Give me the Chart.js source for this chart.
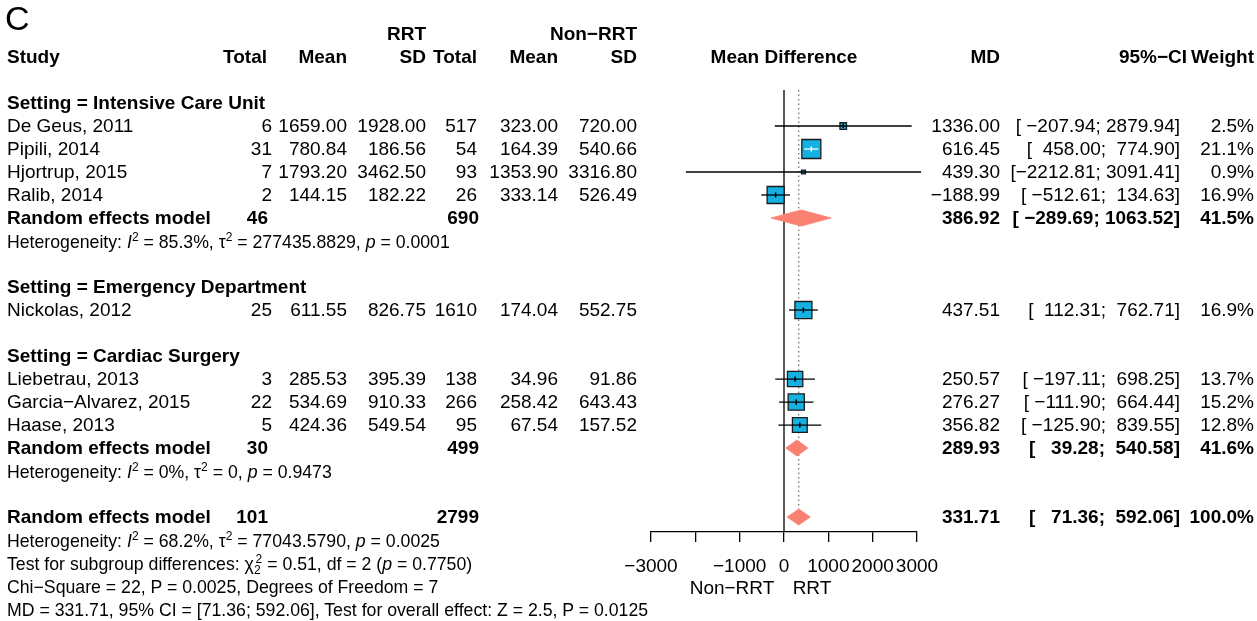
<!DOCTYPE html>
<html>
<head>
<meta charset="utf-8">
<script src="https://cdn.jsdelivr.net/npm/chart.js@4.4.1/dist/chart.umd.min.js"></script>
<style>
body { margin: 0; background: #fff; }
#wrap { position: relative; width: 1257px; height: 621px; font-family: "Liberation Sans", Arial, Helvetica, sans-serif; color: #000; }
#forest { position: absolute; left: 0; top: 0; }
.t { position: absolute; white-space: pre; line-height: 22px; font-size: 19px; }
.b { font-weight: bold; }
.s { font-size: 17.7px; }
sup, sub { font-size: 0.68em; position: relative; vertical-align: baseline; line-height: 0; }
sup { top: -0.6em; }
sub { top: 0.35em; }
</style>
</head>
<body>
<div id="wrap"><canvas id="forest" width="1257" height="621"></canvas></div>
<script>
// study rows
const studies = ['De Geus, 2011', 'Pipili, 2014', 'Hjortrup, 2015', 'Ralib, 2014', 'Nickolas, 2012',
                 'Liebetrau, 2013', 'Garcia−Alvarez, 2015', 'Haase, 2013'];
const studyRows = [1, 2, 3, 4, 9, 12, 13, 14];
const rrtTotal = [6, 31, 7, 2, 25, 3, 22, 5];
const rrtMean = [1659.00, 780.84, 1793.20, 144.15, 611.55, 285.53, 534.69, 424.36];
const rrtSD = [1928.00, 186.56, 3462.50, 182.22, 826.75, 395.39, 910.33, 549.54];
const nonTotal = [517, 54, 93, 26, 1610, 138, 266, 95];
const nonMean = [323.00, 164.39, 1353.90, 333.14, 174.04, 34.96, 258.42, 67.54];
const nonSD = [720.00, 540.66, 3316.80, 526.49, 552.75, 91.86, 643.43, 157.52];
const md = [1336.00, 616.45, 439.30, -188.99, 437.51, 250.57, 276.27, 356.82];
const ciLow = [-207.94, 458.00, -2212.81, -512.61, 112.31, -197.11, -111.90, -125.90];
const ciHigh = [2879.94, 774.90, 3091.41, 134.63, 762.71, 698.25, 664.44, 839.55];
const weight = [2.5, 21.1, 0.9, 16.9, 16.9, 13.7, 15.2, 12.8];

// subgroups
const groupLabels = ['Setting = Intensive Care Unit', 'Setting = Emergency Department', 'Setting = Cardiac Surgery'];
const groupRows = [0, 8, 11];

// pooled estimates (two subgroups + overall)
const pooledRows = [5, 15, 18];
const pooledRrtTotal = [46, 30, 101];
const pooledNonTotal = [690, 499, 2799];
const pooledMD = [386.92, 289.93, 331.71];
const pooledLow = [-289.69, 39.28, 71.36];
const pooledHigh = [1063.52, 540.58, 592.06];
const pooledWeight = [41.5, 41.6, 100.0];

const hetRows = [6, 16, 19];
const hetTexts = [
  'Heterogeneity: <i>I</i><sup>2</sup> = 85.3%, τ<sup>2</sup> = 277435.8829, <i>p</i> = 0.0001',
  'Heterogeneity: <i>I</i><sup>2</sup> = 0%, τ<sup>2</sup> = 0, <i>p</i> = 0.9473',
  'Heterogeneity: <i>I</i><sup>2</sup> = 68.2%, τ<sup>2</sup> = 77043.5790, <i>p</i> = 0.0025'
];
const noteRows = [20, 21, 22];
const noteTexts = [
  'Test for subgroup differences: χ<sub>2</sub><sup style="margin-left:-0.42em">2</sup> = 0.51, df = 2 (<i>p</i> = 0.7750)',
  'Chi−Square = 22, P = 0.0025, Degrees of Freedom = 7',
  'MD = 331.71, 95% CI = [71.36; 592.06], Test for overall effect: Z = 2.5, P = 0.0125'
];

const tickValues = [-3000, -2000, -1000, 0, 1000, 2000, 3000];
const tickLabels = ['−3000', '', '−1000', '0', '1000', '2000', '3000'];

const CYAN = '#14b1e2';
const SALMON = '#fa8072';
const DIAMOND_H = 0.35;
const Y_MIN = -1, Y_MAX = 18.65;

const fmt2 = v => (v < 0 ? '−' : '') + Math.abs(v).toFixed(2);
const fmtCI = (lo, hi) => '[' + fmt2(lo).padStart(8) + '; ' + fmt2(hi).padStart(7) + ']';
const sqSide = w => 4.14 * Math.sqrt(w);

function ciInsideBox(chart, i) {
  const xs = chart.scales.x;
  return Math.abs(xs.getPixelForValue(ciHigh[i]) - xs.getPixelForValue(ciLow[i])) < sqSide(weight[i]);
}

const datasets = [];

// no-effect line and overall-effect dotted line
datasets.push({
  type: 'line', data: [{x: 0, y: -0.57}, {x: 0, y: Y_MAX}],
  borderColor: '#000', borderWidth: 1.3, pointRadius: 0, order: 9, clip: false
});
datasets.push({
  type: 'line', data: [{x: pooledMD[2], y: -0.57}, {x: pooledMD[2], y: pooledRows[2] - DIAMOND_H}],
  borderColor: '#777', borderWidth: 1.3, borderDash: [1.5, 3], pointRadius: 0, order: 8, clip: false
});

// diamonds: upper and lower halves filled to the row line
pooledRows.forEach((r, k) => {
  [-DIAMOND_H, DIAMOND_H].forEach(h => {
    datasets.push({
      type: 'line',
      data: [{x: pooledLow[k], y: r}, {x: pooledMD[k], y: r + h}, {x: pooledHigh[k], y: r}],
      fill: {value: r}, backgroundColor: SALMON, borderColor: SALMON, borderWidth: 0.8,
      pointRadius: 0, order: 6, clip: false
    });
  });
});

// study squares
datasets.push({
  type: 'scatter',
  data: studyRows.map((r, i) => ({x: md[i], y: r})),
  pointStyle: 'rect',
  pointRadius: ctx => sqSide(weight[ctx.dataIndex]) / Math.SQRT2,
  pointBackgroundColor: CYAN, pointBorderColor: '#1b1b1b', pointBorderWidth: 1.3,
  order: 5, clip: false
});

// confidence intervals, drawn over the squares (white when inside the square)
studyRows.forEach((r, i) => {
  datasets.push({
    type: 'line',
    data: [{x: ciLow[i], y: r}, {x: ciHigh[i], y: r}],
    borderColor: ctx => ciInsideBox(ctx.chart, i) ? '#fff' : '#000',
    borderWidth: 1.3, pointRadius: 0, order: 3, clip: false
  });
});

// small tick at each point estimate
datasets.push({
  type: 'scatter',
  data: studyRows.map((r, i) => ({x: md[i], y: r})),
  pointStyle: 'line', pointRotation: 90,
  pointRadius: ctx => sqSide(weight[ctx.dataIndex]) < 5 ? 0 : Math.min(2.6, sqSide(weight[ctx.dataIndex]) / 3),
  pointBorderColor: ctx => ciInsideBox(ctx.chart, ctx.dataIndex) ? '#fff' : '#000',
  pointBorderWidth: 1.5, order: 2, clip: false
});

Chart.defaults.font.family = '"Liberation Sans", Arial, Helvetica, sans-serif';
Chart.defaults.color = '#000';

const chart = new Chart(document.getElementById('forest'), {
  type: 'scatter',
  data: { datasets: datasets },
  options: {
    responsive: false,
    animation: false,
    events: [],
    devicePixelRatio: 1,
    layout: { padding: { left: 651, right: 340, top: 80, bottom: 29 } },
    plugins: { legend: { display: false }, tooltip: { enabled: false } },
    scales: {
      x: {
        type: 'linear', min: -3000, max: 3000, position: 'bottom',
        afterFit: scale => { scale.height = 60; },
        afterBuildTicks: scale => { scale.ticks = tickValues.map(v => ({value: v})); },
        border: { display: true, color: '#000', width: 1.3 },
        grid: { drawOnChartArea: false, drawTicks: true, tickLength: 10, color: '#000', lineWidth: 1.3 },
        ticks: {
          autoSkip: false, maxRotation: 0, padding: 13, color: '#000', font: { size: 19 },
          callback: (v, i) => tickLabels[i]
        }
      },
      y: { type: 'linear', display: false, reverse: true, min: Y_MIN, max: Y_MAX }
    }
  }
});

// table text, placed on the same rows as the plot
const wrap = document.getElementById('wrap');
const W = 1257;
const rowY = r => chart.scales.y.getPixelForValue(r);

function put(x, r, html, align, cls, dy) {
  const d = document.createElement('div');
  d.className = 't ' + (cls || '');
  d.innerHTML = html;
  d.style.top = (rowY(r) - 11 + (dy || 0)) + 'px';
  if (align === 'right') d.style.right = (W - x) + 'px';
  else if (align === 'center') { d.style.left = x + 'px'; d.style.transform = 'translateX(-50%)'; }
  else d.style.left = x + 'px';
  wrap.appendChild(d);
}

const big = document.createElement('div');
big.className = 't';
big.style.cssText = 'left:5px;top:' + (rowY(-3.7) - 20) + 'px;font-size:34px;line-height:40px;';
big.textContent = 'C';
wrap.appendChild(big);

const COL = { study: 7, rTot: 272, rMean: 347, rSD: 426, nTot: 477, nMean: 558, nSD: 637, md: 1000, ci: 1180, w: 1254 };

put(COL.rSD, -3, 'RRT', 'right', 'b');
put(COL.nSD, -3, 'Non−RRT', 'right', 'b');
put(COL.study, -2, 'Study', 'left', 'b');
put(267, -2, 'Total', 'right', 'b');
put(COL.rMean, -2, 'Mean', 'right', 'b');
put(COL.rSD, -2, 'SD', 'right', 'b');
put(COL.nTot, -2, 'Total', 'right', 'b');
put(COL.nMean, -2, 'Mean', 'right', 'b');
put(COL.nSD, -2, 'SD', 'right', 'b');
put((chart.chartArea.left + chart.chartArea.right) / 2, -2, 'Mean Difference', 'center', 'b');
put(COL.md, -2, 'MD', 'right', 'b');
put(1187, -2, '95%−CI', 'right', 'b');
put(COL.w, -2, 'Weight', 'right', 'b');

groupLabels.forEach((g, k) => put(COL.study, groupRows[k], g, 'left', 'b'));

studies.forEach((s, i) => {
  const r = studyRows[i];
  put(COL.study, r, s, 'left');
  put(COL.rTot, r, String(rrtTotal[i]), 'right');
  put(COL.rMean, r, rrtMean[i].toFixed(2), 'right');
  put(COL.rSD, r, rrtSD[i].toFixed(2), 'right');
  put(COL.nTot, r, String(nonTotal[i]), 'right');
  put(COL.nMean, r, nonMean[i].toFixed(2), 'right');
  put(COL.nSD, r, nonSD[i].toFixed(2), 'right');
  put(COL.md, r, fmt2(md[i]), 'right');
  put(COL.ci, r, fmtCI(ciLow[i], ciHigh[i]), 'right');
  put(COL.w, r, weight[i].toFixed(1) + '%', 'right');
});

pooledRows.forEach((r, k) => {
  put(COL.study, r, 'Random effects model', 'left', 'b');
  put(268, r, String(pooledRrtTotal[k]), 'right', 'b');
  put(479, r, String(pooledNonTotal[k]), 'right', 'b');
  put(COL.md, r, fmt2(pooledMD[k]), 'right', 'b');
  put(COL.ci, r, fmtCI(pooledLow[k], pooledHigh[k]), 'right', 'b');
  put(COL.w, r, pooledWeight[k].toFixed(1) + '%', 'right', 'b');
});

hetTexts.forEach((h, k) => put(COL.study, hetRows[k], h, 'left', 's', 1));
noteTexts.forEach((h, k) => put(COL.study, noteRows[k], h, 'left', 's', 1));

put(732, 21, 'Non−RRT', 'center', '', 2);
put(812, 21, 'RRT', 'center', '', 2);
</script>
</body>
</html>
